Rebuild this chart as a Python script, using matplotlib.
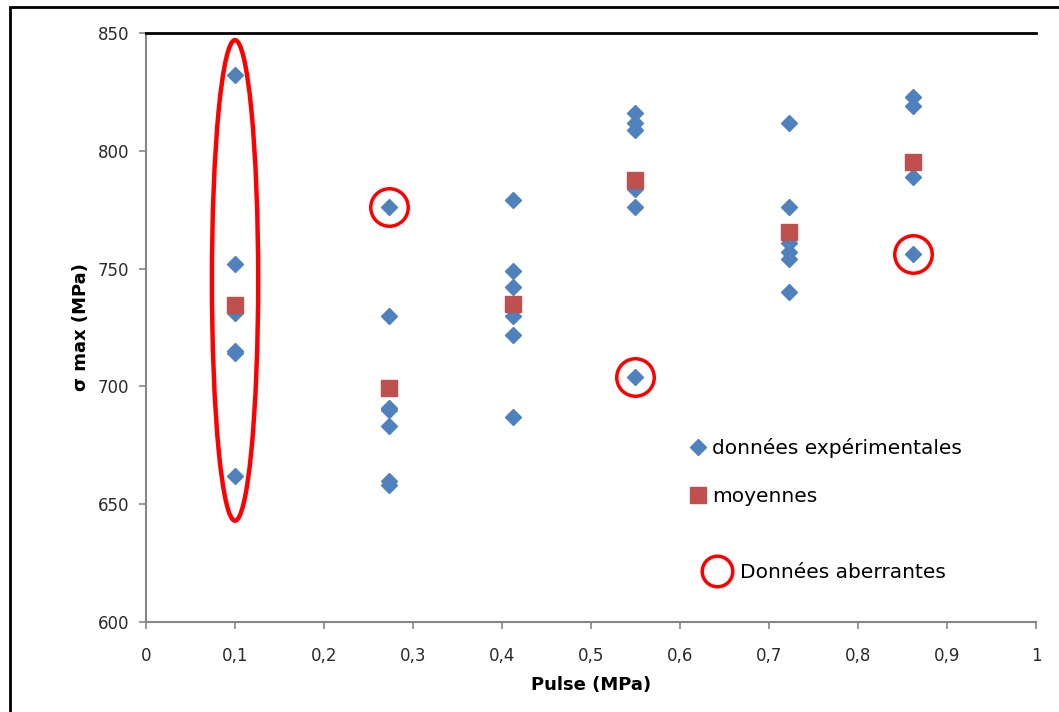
import matplotlib.pyplot as plt
from matplotlib.patches import Ellipse, Rectangle
from matplotlib.lines import Line2D
from matplotlib.ticker import FuncFormatter

# Données
pression = [0.1, 0.273, 0.412, 0.549, 0.723, 0.862]
sigma_exp = [
    [832, 752, 731, 715, 714, 662],
    [776, 730, 691, 690, 683, 660, 658],
    [779, 749, 742, 730, 722, 687],
    [816, 812, 809, 784, 776, 704],
    [812, 776, 761, 757, 754, 740],
    [823, 819, 795, 789, 756],
]
sigma_moy = [734.5, 699.3, 735, 787.6, 765.7, 795.4]

# points aberrants isolés
aber_x = [0.273, 0.549, 0.862]
aber_y = [776, 704, 756]
# groupe entier entouré (x = 0,1)
groupe_x, groupe_y = 0.1, 745
groupe_h = 204

blue = '#4F81BD'
red_sq = '#C0504D'
gray = '#868686'

fig = plt.figure(figsize=(10.59, 7.12), dpi=100)
ax = fig.add_axes([0.1379, 0.1264, 0.8404, 0.8272])

xs = [x for x, g in zip(pression, sigma_exp) for _ in g]
ys = [v for g in sigma_exp for v in g]
ax.plot(xs, ys, 'D', color=blue, ms=8, ls='', label='données expérimentales')
ax.plot(pression, sigma_moy, 's', color=red_sq, ms=12, ls='', label='moyennes')

ax.plot(aber_x, aber_y, 'o', ms=27, mfc='none', mec='red', mew=2.5, ls='')
ax.add_patch(Ellipse((groupe_x, groupe_y), 0.052, groupe_h, fill=False,
                     edgecolor='red', linewidth=3.2))

ax.set_xlim(0, 1)
ax.set_ylim(600, 850)
ax.set_xticks([i / 10 for i in range(11)])
ax.set_yticks(range(600, 851, 50))
ax.xaxis.set_major_formatter(FuncFormatter(
    lambda v, p: '0' if v == 0 else ('1' if v == 1 else f'{v:.1f}'.replace('.', ','))))

for s in ['left', 'bottom']:
    ax.spines[s].set_color(gray)
    ax.spines[s].set_linewidth(1.5)
ax.spines['right'].set_visible(False)
ax.spines['top'].set_color('black')
ax.spines['top'].set_linewidth(2)
ax.tick_params(axis='both', direction='out', length=5, width=1.2, color=gray,
               labelsize=12, labelcolor='#2a2a2a')
ax.tick_params(axis='y', pad=7)
ax.tick_params(axis='x', pad=13)

ax.set_xlabel('Pulse (MPa)', fontsize=13, fontweight='bold', labelpad=8)
ax.set_ylabel('σ max (MPa)', fontsize=13, fontweight='bold', labelpad=6)

leg1 = ax.legend(loc='upper left', bbox_to_anchor=(0.611, 0.313), frameon=False,
                 fontsize=14.5, handlelength=0.8, handletextpad=0.3,
                 labelspacing=1.45, borderpad=0, borderaxespad=0)
ax.add_artist(leg1)
h_aber = Line2D([], [], marker='o', ms=22, mfc='none', mec='red', mew=2.5, ls='')
ax.legend([h_aber], ['Données aberrantes'], loc='upper left',
          bbox_to_anchor=(0.6285, 0.0995), frameon=False, fontsize=14.5,
          handlelength=1.2, handletextpad=0.5, borderpad=0, borderaxespad=0)

# cadre de la figure
fig.add_artist(Rectangle((10 / 1059, -0.1), 1.5, (712 - 7) / 712 + 0.1,
                         transform=fig.transFigure, fill=False,
                         edgecolor='black', linewidth=2, clip_on=False))

fig.savefig('out.png', dpi=100)
